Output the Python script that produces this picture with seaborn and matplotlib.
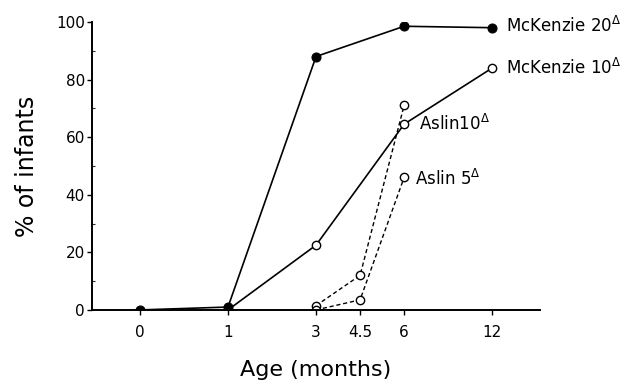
import numpy as np
import pandas as pd
import matplotlib
matplotlib.use("Agg")
import matplotlib.pyplot as plt
import seaborn as sns

# ages in months and % of infants
mck20_age = [0, 1, 3, 6, 12]
mck20_pct = [0, 1, 88, 98.5, 98]
mck10_age = [1, 3, 6, 12]
mck10_pct = [0, 22.5, 64.5, 84]
aslin10_age = [3, 4.5, 6]
aslin10_pct = [1.5, 12, 71]
aslin5_age = [3, 4.5, 6]
aslin5_pct = [0, 3.5, 46]

tick_ages = [0, 1, 3, 4.5, 6, 12]
tick_labels = ["0", "1", "3", "4.5", "6", "12"]

# the original axis is spaced by hand: 0,1,3,6,12 evenly, 4.5 halfway
knot_age = [-1, 0, 1, 3, 6, 12, 18]
knot_pos = [-1, 0, 1, 2, 3, 4, 5]


def fwd(a):
    return np.interp(a, knot_age, knot_pos)


def inv(p):
    return np.interp(p, knot_pos, knot_age)


sns.set_style("ticks")
plt.rcParams["font.family"] = ["DejaVu Sans"]
plt.rcParams["mathtext.fontset"] = "dejavusans"
plt.rcParams["text.color"] = "black"
plt.rcParams["axes.labelcolor"] = "black"

fig = plt.figure(figsize=(6.34, 3.85), dpi=100)
ax = fig.add_axes([0.145, 0.195, 0.707, 0.748])
ax.set_xscale("function", functions=(fwd, inv))

open_kw = dict(marker="o", markersize=6, markerfacecolor="white",
               markeredgecolor="black", markeredgewidth=1.0, color="black")

sns.lineplot(x=aslin10_age, y=aslin10_pct, ax=ax, linestyle=(0, (3, 2)),
             linewidth=1.0, **open_kw)
sns.lineplot(x=aslin5_age, y=aslin5_pct, ax=ax, linestyle=(0, (3, 2)),
             linewidth=1.0, **open_kw)
sns.lineplot(x=mck10_age, y=mck10_pct, ax=ax, linewidth=1.2, **open_kw)
sns.lineplot(x=mck20_age, y=mck20_pct, ax=ax, linewidth=1.2, color="black",
             marker="o", markersize=6.5, markerfacecolor="black",
             markeredgecolor="black")

ax.set_xlim(inv(-0.545), inv(4.545))
ax.set_ylim(0, 100)
ax.set_xticks(tick_ages)
ax.set_xticklabels(tick_labels)
ax.set_yticks([0, 20, 40, 60, 80, 100])
ax.set_yticks(np.arange(10, 100, 20), minor=True)
ax.xaxis.set_minor_locator(matplotlib.ticker.NullLocator())
ax.tick_params(axis="both", which="major", direction="out", length=3.5,
               width=1.0, labelsize=11, colors="black")
ax.tick_params(axis="x", which="major", pad=7)
ax.tick_params(axis="y", which="major", pad=1.5)
ax.tick_params(axis="y", which="minor", direction="in", length=2, width=0.8)
sns.despine(ax=ax)
for s in ("left", "bottom"):
    ax.spines[s].set_linewidth(1.4)
    ax.spines[s].set_color("black")

ax.set_xlabel("Age (months)", fontsize=16, labelpad=15)
ax.set_ylabel("% of infants", fontsize=17, labelpad=12)

lab_kw = dict(textcoords="offset points", va="center", ha="left",
              fontsize=12, color="black")
ax.annotate(r"McKenzie 20$^{\Delta}$", (12, mck20_pct[-1]), xytext=(10, 1), **lab_kw)
ax.annotate(r"McKenzie 10$^{\Delta}$", (12, mck10_pct[-1]), xytext=(10, 0), **lab_kw)
ax.annotate(r"Aslin10$^{\Delta}$", (6, mck10_pct[2]), xytext=(11, 0), **lab_kw)
ax.annotate(r"Aslin 5$^{\Delta}$", (6, aslin5_pct[-1]), xytext=(8, -1), **lab_kw)

fig.savefig("out.png", dpi=100)
